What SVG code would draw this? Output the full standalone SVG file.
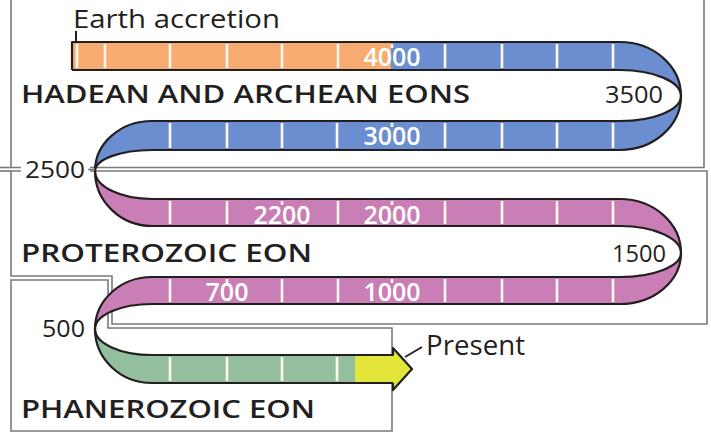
<svg xmlns="http://www.w3.org/2000/svg" width="711" height="433" viewBox="0 0 711 433">
  <style>
    .box { fill: none; stroke: #7a7a7a; stroke-width: 1.6; }
    .edge { fill: none; stroke: #231f20; stroke-width: 2.2; stroke-linejoin: round; }
    .tick { fill: none; stroke: #fdf8ec; stroke-width: 2.6; }
    .lbl { font-family: "Open Sans", "Noto Sans", sans-serif; fill: #231f20; }
    .eon { font-family: "Open Sans", "Noto Sans", sans-serif; font-weight: 600; font-size: 26px; fill: #231f20; }
    .yr { font-family: "Open Sans", "Noto Sans", sans-serif; font-weight: 600; font-size: 25px; fill: #ffffff; text-anchor: middle; }
  </style>
  <rect width="711" height="433" fill="#ffffff"/>

  <!-- eon frames -->
  <g id="frames">
    <path class="box" d="M11,-5 V167.5 H704 V-5"/>
    <path class="box" d="M0,167.5 H11"/>
    <path class="box" d="M11,171 H707 V324 H112 V276 H11 Z"/>
    <path class="box" d="M0,171 H11"/>
    <path class="box" d="M11,280 H108 V328 H392 V431 H11 Z"/>
  </g>

  <!-- coiled time ribbon -->
  <g id="ribbon">
    <rect x="72" y="42" width="320" height="28" fill="#f8ab70"/>
    <path fill="#6a8ed0" d="M391,42 H620 A61 54 0 0 1 681,96 A61 54 0 0 1 620,150 H152 A57 21 0 0 0 95,171 A57 50 0 0 1 152,121 H620 A61 25 0 0 0 681,96 A61 26 0 0 0 620,70 H391 Z"/>
    <path fill="#c97fb6" d="M95,171 A57 55 0 0 0 152,226 H620 A61 27 0 0 1 681,253 A61 24 0 0 1 620,277 H152 A57 52 0 0 0 95,329 A57 25 0 0 1 152,304 H620 A61 51 0 0 0 681,253 A61 54 0 0 0 620,199 H152 A57 28 0 0 1 95,171 Z"/>
    <path fill="#93bf9f" d="M95,329 A57 54 0 0 0 152,383 H356 V355 H152 A57 26 0 0 1 95,329 Z"/>
    <path fill="#e3e63a" d="M355,355 H393 V348 L412,369 L393,390 V383 H355 Z"/>

    <!-- million-year ticks -->
    <path class="tick" d="M77,44 V68 M105,44 V68 M170,44 V68 M227,44 V68 M282,44 V68 M338,44 V68 M392,44 V48 M445,44 V68 M502,44 V68 M557,44 V68 M613,44 V68"/>
    <path class="tick" d="M170,123 V148 M227,123 V148 M282,123 V148 M337,123 V148 M392,123 V127 M445,123 V148 M502,123 V148 M557,123 V148 M613,123 V148"/>
    <path class="tick" d="M170,201 V224 M227,201 V224 M282,201 V205 M338,201 V224 M392,201 V205 M445,201 V224 M502,201 V224 M557,201 V224 M613,201 V224"/>
    <path class="tick" d="M170,279 V302 M227,279 V283 M282,279 V302 M338,279 V302 M392,279 V283 M445,279 V302 M502,279 V302 M557,279 V302 M613,279 V302"/>
    <path class="tick" d="M170,357 V381 M227,357 V381 M282,357 V381 M337,357 V381"/>

    <!-- ribbon edges -->
    <path class="edge" d="M72,70 V42 H620 A61 54 0 0 1 681,96 A61 54 0 0 1 620,150 H152 A57 21 0 0 0 95,171 A57 28 0 0 0 152,199 H620 A61 54 0 0 1 681,253 A61 51 0 0 1 620,304 H152 A57 25 0 0 0 95,329 A57 26 0 0 0 152,355 H393 V348 L412,369 L393,390 V383"/>
    <path class="edge" d="M72,70 H620 A61 26 0 0 1 681,96 A61 25 0 0 1 620,121 H152 A57 50 0 0 0 95,171 A57 55 0 0 0 152,226 H620 A61 27 0 0 1 681,253 A61 24 0 0 1 620,277 H152 A57 52 0 0 0 95,329 A57 54 0 0 0 152,383 H393"/>

    <!-- ages on the ribbon -->
    <text class="yr" x="392" y="66">4000</text>
    <text class="yr" x="392" y="145">3000</text>
    <text class="yr" x="282" y="224">2200</text>
    <text class="yr" x="392" y="224">2000</text>
    <text class="yr" x="227" y="301">700</text>
    <text class="yr" x="392" y="301">1000</text>
  </g>

  <!-- labels -->
  <g id="labels">
    <path d="M76,31 V42" stroke="#231f20" stroke-width="2" fill="none"/>
    <text class="lbl" x="73" y="28" font-size="26" textLength="207" lengthAdjust="spacingAndGlyphs">Earth accretion</text>
    <text class="eon" x="21" y="103" textLength="449" lengthAdjust="spacingAndGlyphs">HADEAN AND ARCHEAN EONS</text>
    <text class="lbl" x="605" y="103" font-size="24" textLength="58" lengthAdjust="spacingAndGlyphs">3500</text>
    <rect x="21" y="158" width="69" height="22" fill="#ffffff"/>
    <path d="M88,169.5 H95" stroke="#7a7a7a" stroke-width="1.6"/>
    <text class="lbl" x="25" y="178" font-size="24" textLength="60" lengthAdjust="spacingAndGlyphs">2500</text>
    <text class="eon" x="21" y="262" textLength="291" lengthAdjust="spacingAndGlyphs">PROTEROZOIC EON</text>
    <text class="lbl" x="612" y="262" font-size="24" textLength="54" lengthAdjust="spacingAndGlyphs">1500</text>
    <text class="lbl" x="42" y="337" font-size="24" textLength="43" lengthAdjust="spacingAndGlyphs">500</text>
    <text class="eon" x="21" y="418" textLength="294" lengthAdjust="spacingAndGlyphs">PHANEROZOIC EON</text>
    <path d="M405,357 L422,347" stroke="#231f20" stroke-width="2" fill="none"/>
    <text class="lbl" x="426" y="355" font-size="28" textLength="99" lengthAdjust="spacingAndGlyphs">Present</text>
  </g>
</svg>
